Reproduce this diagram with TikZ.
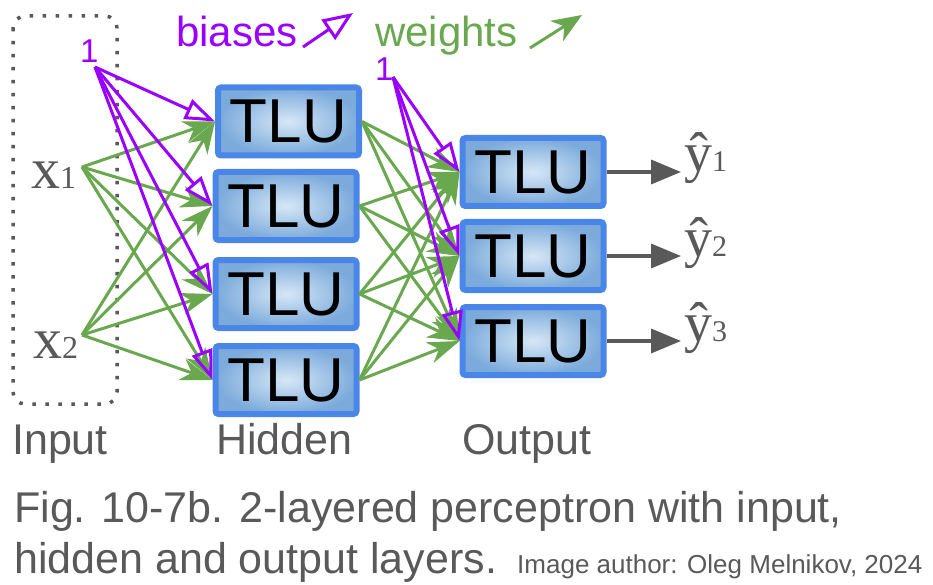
\documentclass[tikz,border=0pt]{standalone}
\usepackage{fontspec}
\setmainfont{Liberation Sans}
\newfontfamily\serifface{Liberation Serif}
\usetikzlibrary{arrows.meta}
\definecolor{purp}{HTML}{9900FF}
\definecolor{grn}{HTML}{6AA84F}
\definecolor{gry}{HTML}{595959}
\definecolor{bord}{HTML}{4A86E8}
\definecolor{boxin}{HTML}{D6E7F6}
\definecolor{boxout}{HTML}{7BAADB}
\begin{document}
\begin{tikzpicture}[x=1pt,y=-1pt,
  tlu/.style={draw=bord, line width=6pt, rounded corners=3pt, inner color=boxin, outer color=boxout,
    minimum width=141pt, minimum height=68pt, inner sep=0pt, font=\fontsize{62}{62}\selectfont, text=black},
  wgt/.style={draw=grn, line width=3pt, -{Stealth[length=32pt,width=22pt,inset=10pt]}},
  wgtbig/.style={draw=grn, line width=3pt, -{Stealth[length=30pt,width=24pt,inset=9pt]}},
  bia/.style={draw=purp, line width=3pt, -{Triangle[open,length=30pt,width=21pt]}},
  biabig/.style={draw=purp, line width=3pt, -{Triangle[open,length=30pt,width=24pt]}},
  outarr/.style={draw=gry, fill=gry, line width=3.5pt, -{Triangle[length=30pt,width=24pt]}},
  lbl/.style={text=gry, font=\fontsize{43}{43}\selectfont, inner sep=0pt, anchor=base west},
  var/.style={text=gry, inner sep=0pt, anchor=base west},
  one/.style={text=purp, font=\fontsize{33}{33}\selectfont, inner sep=0pt, anchor=base west},
  legend/.style={font=\fontsize{42}{42}\selectfont, inner sep=0pt, anchor=base west}
]
\useasboundingbox (0,0) rectangle (933,585);

% input group
\draw[gry, line width=3.5pt, dash pattern=on 3.5pt off 9.5pt, rounded corners=12pt] (13,16) rectangle (117,404);

% hidden and output boxes
\node[tlu] (h1) at (288.5,121.5) {TLU};
\node[tlu] (h2) at (286,206) {TLU};
\node[tlu] (h3) at (286,294) {TLU};
\node[tlu] (h4) at (286,380) {TLU};
\node[tlu] (o1) at (533,172) {TLU};
\node[tlu] (o2) at (533,256) {TLU};
\node[tlu] (o3) at (533,341) {TLU};

% inputs
\node[var] (x1) at (31,189) {\serifface\fontsize{58}{58}\selectfont x\fontsize{32}{32}\selectfont 1};
\node[var] (x2) at (33,358) {\serifface\fontsize{58}{58}\selectfont x\fontsize{32}{32}\selectfont 2};
\coordinate (i1) at (82,167);
\coordinate (i2) at (82,335);

% bias sources
\node[one] (one1) at (80,63) {1};
\node[one] (one2) at (375,81) {1};
\coordinate (b1) at (95,67);
\coordinate (b2) at (393,77);

% legend
\node[legend, text=purp] (lb) at (176,47) {biases};
\node[legend, text=grn] (lw) at (375,47) {weights};
\coordinate (lbs) at (303,47);
\coordinate (lbe) at (353,13);
\coordinate (lws) at (530,48);
\coordinate (lwe) at (582,15);
\draw[biabig] (lbs) -- (lbe);
\draw[wgtbig] (lws) -- (lwe);

% weights: input -> hidden
\foreach \i in {i1,i2}{
  \foreach \h in {h1,h2,h3,h4}{
    \draw[wgt] (\i) -- (\h.west);
  }
}
% weights: hidden -> output
\foreach \h in {h1,h2,h3,h4}{
  \foreach \o in {o1,o2,o3}{
    \draw[wgt] (\h.east) -- (\o.west);
  }
}
% biases
\foreach \h in {h1,h2,h3,h4}{
  \draw[bia] (b1) -- (\h.west);
}
\foreach \o in {o1,o2,o3}{
  \draw[bia] (b2) -- (\o.west);
}

% outputs
\coordinate (y1e) at (681,172);
\coordinate (y2e) at (681,256);
\coordinate (y3e) at (681,341);
\draw[outarr] (o1.east) -- (y1e);
\draw[outarr] (o2.east) -- (y2e);
\draw[outarr] (o3.east) -- (y3e);
\node[var] (y1) at (684,172) {\serifface\fontsize{56}{56}\selectfont ŷ\fontsize{30}{30}\selectfont 1};
\node[var] (y2) at (684,256) {\serifface\fontsize{56}{56}\selectfont ŷ\fontsize{30}{30}\selectfont 2};
\node[var] (y3) at (684,341) {\serifface\fontsize{56}{56}\selectfont ŷ\fontsize{30}{30}\selectfont 3};

% layer labels
\node[lbl] (lin) at (12,454) {Input};
\node[lbl] (lhid) at (216,454) {Hidden};
\node[lbl] (lout) at (462,454) {Output};

% caption
\node[lbl] (cap1) at (14,522) {Fig. 10-7b. 2-layered perceptron with input,};
\node[lbl] (cap2) at (14,573) {hidden and output layers.};
\node[var, font=\fontsize{26}{26}\selectfont] (auth) at (517,573) {Image author: Oleg Melnikov, 2024};
\end{tikzpicture}
\end{document}
